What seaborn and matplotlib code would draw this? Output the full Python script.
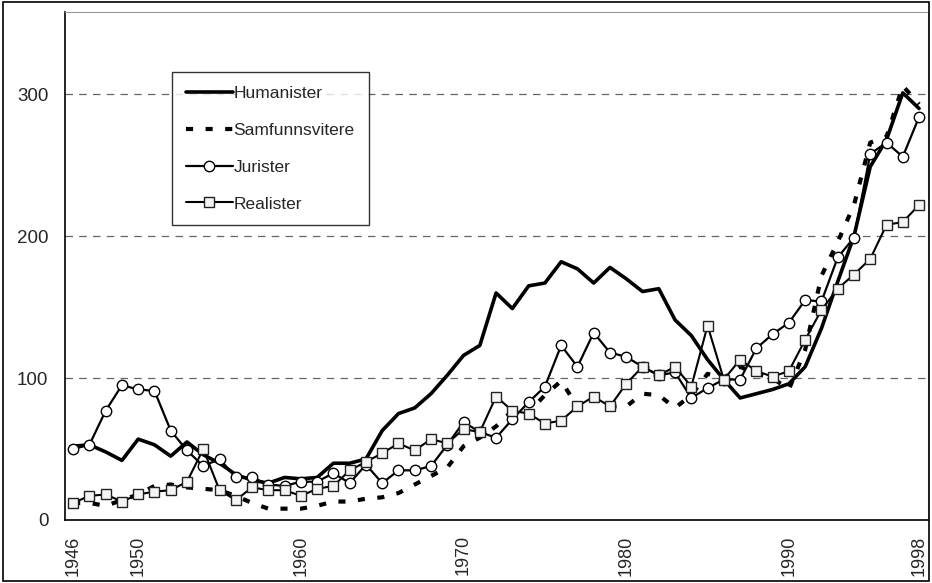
import numpy as np
import pandas as pd
import matplotlib
matplotlib.use('Agg')
import matplotlib.pyplot as plt
import seaborn as sns
from matplotlib.patches import Rectangle

# Data (1946-1998)
years = list(range(1946, 1999))
humanister = [52, 53, 48, 42, 57, 53, 45, 55, 46, 40,
              32, 28, 26, 30, 29, 30, 40, 40, 43, 63,
              75, 79, 89, 102, 116, 123, 160, 149, 165, 167,
              182, 177, 167, 178, 170, 161, 163, 141, 130, 113,
              99, 86, 89, 92, 96, 108, 135, 168, 200, 249,
              268, 301, 290]
samfunnsvitere = [12, 12, 10, 14, 18, 24, 25, 23, 22, 21,
                  17, 12, 8, 8, 8, 10, 13, 13, 15, 16,
                  19, 25, 31, 37, 52, 58, 66, 77, 76, 88,
                  98, 80, 87, 80, 80, 89, 88, 79, 88, 103,
                  100, 108, 103, 100, 92, 120, 172, 196, 222, 266,
                  270, 306, 293]
jurister = [50, 53, 77, 95, 92, 91, 63, 49, 38, 43,
            30, 30, 25, 24, 27, 27, 33, 26, 39, 26,
            35, 35, 38, 53, 69, 62, 58, 71, 83, 94,
            123, 108, 132, 118, 115, 108, 102, 104, 86, 93,
            99, 99, 121, 131, 139, 155, 154, 185, 199, 258,
            266, 256, 284]
realister = [12, 17, 18, 13, 18, 20, 21, 27, 50, 21,
             14, 23, 21, 21, 17, 22, 24, 35, 41, 47,
             54, 49, 57, 54, 64, 62, 87, 77, 75, 68,
             70, 80, 87, 80, 96, 108, 102, 108, 94, 137,
             99, 113, 105, 101, 105, 127, 148, 163, 173, 184,
             208, 210, 222]
labeled_years = [1946, 1950, 1960, 1970, 1980, 1990, 1998]
y_ticks = [0, 100, 200, 300]

sns.set_style('white')
plt.rcParams['font.family'] = ['Liberation Sans', 'DejaVu Sans']

fig = plt.figure(figsize=(9.32, 5.83), dpi=100)
ax = fig.add_axes([65 / 932, 63 / 583, 863 / 932, 508 / 583])

# Humanister - thick solid line
sns.lineplot(x=years, y=humanister, ax=ax, color='black', linewidth=2.6,
             label='Humanister', zorder=3)
# Samfunnsvitere - thick dashed line
sns.lineplot(x=years, y=samfunnsvitere, ax=ax, color='black', linewidth=3.0,
             linestyle=(0, (1.7, 3.0)), label='Samfunnsvitere', zorder=3)
# Jurister - line with open circles
sns.lineplot(x=years, y=jurister, ax=ax, color='black', linewidth=1.6,
             marker='o', markersize=7.5, markerfacecolor='white',
             markeredgecolor='black', markeredgewidth=1.0,
             label='Jurister', zorder=4)
# Realister - line with open squares
sns.lineplot(x=years, y=realister, ax=ax, color='black', linewidth=1.5,
             marker='s', markersize=6.5, markerfacecolor='#f4f4f4',
             markeredgecolor='#222222', markeredgewidth=1.0,
             label='Realister', zorder=4)

ax.set_xlim(1945.5, 1998.55)
ax.set_ylim(0, 358)

ax.set_yticks(y_ticks)
ax.set_yticklabels([str(v) for v in y_ticks], fontsize=13.5)
ax.set_xticks(years)
ax.set_xticklabels([str(y) if y in labeled_years else '' for y in years],
                   rotation=90, fontsize=13)
ax.tick_params(axis='x', direction='out', length=5, width=1, pad=6, color='black')
ax.tick_params(axis='y', direction='out', length=5, width=1, pad=7, color='black')
ax.set_xlabel('')
ax.set_ylabel('')

for v in [100, 200, 300]:
    ax.axhline(v, color='#666666', linewidth=0.9, linestyle=(0, (6, 5)), zorder=1)

for side in ['left', 'bottom']:
    ax.spines[side].set_color('black')
    ax.spines[side].set_linewidth(1.2)
for side in ['top', 'right']:
    ax.spines[side].set_color('#999999')
    ax.spines[side].set_linewidth(0.8)
ax.spines['right'].set_linestyle(':')

leg = ax.legend(loc='upper left', bbox_to_anchor=(0.124, 0.882), fontsize=12.5,
                frameon=True, fancybox=False, shadow=False, handlelength=2.7,
                handletextpad=0.05, labelspacing=1.25, borderpad=0.8,
                borderaxespad=0)
leg.get_frame().set_edgecolor('black')
leg.get_frame().set_linewidth(1.0)

# outer frame around the whole picture
fig.patches.append(Rectangle((0.003, 0.004), 0.994, 0.992, transform=fig.transFigure,
                             fill=False, edgecolor='black', linewidth=1.2))

fig.savefig('out.png', dpi=100)
